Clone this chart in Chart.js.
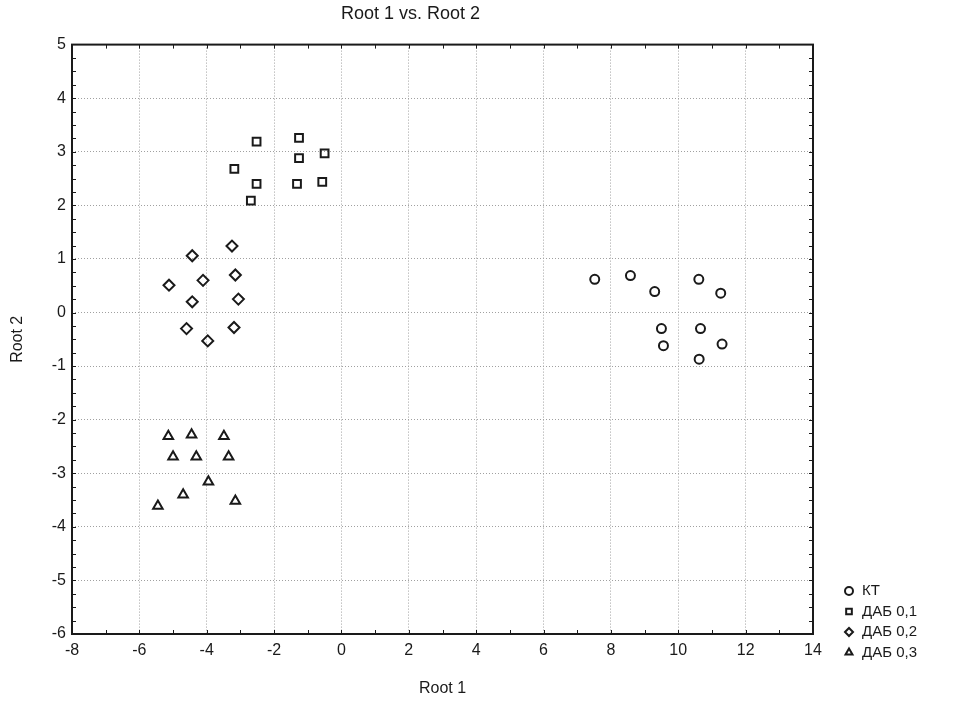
<!DOCTYPE html>
<html>
<head>
<meta charset="utf-8">
<script src="https://cdn.jsdelivr.net/npm/chart.js@4.4.1/dist/chart.umd.min.js"></script>
<style>
  body { margin: 0; background: #fff; }
</style>
</head>
<body>
<canvas id="rootChart" width="954" height="704"></canvas>
<script>
// Данные (Root 1 / Root 2) по группам
const ktRoot1 = [7.52, 8.58, 9.30, 10.61, 11.26, 9.50, 9.56, 10.66, 11.30, 10.62];
const ktRoot2 = [0.62, 0.69, 0.39, 0.62, 0.36, -0.30, -0.62, -0.30, -0.59, -0.87];

const dab01Root1 = [-2.52, -1.26, -0.50, -1.26, -3.18, -2.52, -1.32, -0.57, -2.69];
const dab01Root2 = [3.19, 3.26, 2.97, 2.88, 2.68, 2.40, 2.40, 2.44, 2.09];

const dab02Root1 = [-3.25, -4.43, -3.15, -5.12, -4.11, -4.43, -3.06, -4.60, -3.19, -3.97];
const dab02Root2 = [1.24, 1.06, 0.70, 0.51, 0.60, 0.20, 0.25, -0.30, -0.28, -0.53];

const dab03Root1 = [-5.14, -4.45, -3.49, -5.00, -4.31, -3.35, -3.95, -4.70, -5.45, -3.15];
const dab03Root2 = [-2.31, -2.28, -2.31, -2.69, -2.69, -2.69, -3.16, -3.40, -3.61, -3.52];

const groupNames = ['КТ', 'ДАБ 0,1', 'ДАБ 0,2', 'ДАБ 0,3'];
const xTicks = [-8, -6, -4, -2, 0, 2, 4, 6, 8, 10, 12, 14];
const yTicks = [-6, -5, -4, -3, -2, -1, 0, 1, 2, 3, 4, 5];

const FONT = "'Liberation Sans', Arial, sans-serif";
const INK = '#1a1a1a';

const toPoints = (xs, ys) => xs.map((x, i) => ({ x: x, y: ys[i] }));

const styles = [
  { pointStyle: 'circle', radius: 4.5 },
  { pointStyle: 'rect', radius: 5.5 },
  { pointStyle: 'rectRot', radius: 5.5 },
  { pointStyle: 'triangle', radius: 5.5 }
];

const series = [
  toPoints(ktRoot1, ktRoot2),
  toPoints(dab01Root1, dab01Root2),
  toPoints(dab02Root1, dab02Root2),
  toPoints(dab03Root1, dab03Root2)
];

const datasets = series.map((pts, i) => ({
  label: groupNames[i],
  data: pts,
  pointStyle: styles[i].pointStyle,
  pointRadius: styles[i].radius,
  pointHoverRadius: styles[i].radius,
  pointBorderWidth: 2,
  borderColor: INK,
  backgroundColor: 'rgba(255,255,255,0)'
}));

// Рамка, внутренние засечки и легенда
const framePlugin = {
  id: 'frame',
  afterDraw(chart) {
    const { ctx, chartArea: a, scales } = chart;
    ctx.save();
    ctx.strokeStyle = INK;
    ctx.lineWidth = 2;
    ctx.strokeRect(a.left, a.top, a.right - a.left, a.bottom - a.top);

    ctx.lineWidth = 1;
    ctx.beginPath();
    for (let v = -7; v <= 13; v += 1) {
      const px = Math.round(scales.x.getPixelForValue(v)) + 0.5;
      ctx.moveTo(px, a.top); ctx.lineTo(px, a.top + 4);
      ctx.moveTo(px, a.bottom); ctx.lineTo(px, a.bottom - 4);
    }
    for (let v = -5.75; v < 5; v += 0.25) {
      const py = Math.round(scales.y.getPixelForValue(v)) + 0.5;
      ctx.moveTo(a.left, py); ctx.lineTo(a.left + 4, py);
      ctx.moveTo(a.right, py); ctx.lineTo(a.right - 4, py);
    }
    ctx.stroke();

    // легенда справа внизу
    const lx = 849, ly = 591, step = 20.5;
    ctx.font = '15px ' + FONT;
    ctx.textBaseline = 'middle';
    ctx.textAlign = 'left';
    ctx.lineWidth = 2;
    groupNames.forEach((name, i) => {
      const y = ly + i * step;
      ctx.fillStyle = '#fff';
      ctx.strokeStyle = INK;
      Chart.helpers.drawPoint(ctx, {
        pointStyle: styles[i].pointStyle,
        radius: 4,
        borderWidth: 2
      }, lx, y);
      ctx.fillStyle = INK;
      ctx.fillText(name, lx + 13, y);
    });
    ctx.restore();
  }
};

new Chart(document.getElementById('rootChart'), {
  type: 'scatter',
  data: { datasets: datasets },
  options: {
    responsive: false,
    animation: false,
    layout: { padding: { left: 8, right: 141, top: 0, bottom: 0 } },
    plugins: {
      legend: { display: false },
      tooltip: { enabled: false },
      title: {
        display: true,
        text: 'Root 1 vs. Root 2',
        color: INK,
        font: { family: FONT, size: 18, weight: 'normal' },
        padding: { top: 3, bottom: 20 }
      }
    },
    scales: {
      x: {
        type: 'linear',
        min: -8,
        max: 14,
        afterBuildTicks: s => { s.ticks = xTicks.map(v => ({ value: v })); },
        afterFit: s => { s.height = 70; },
        ticks: { color: INK, padding: 7, font: { family: FONT, size: 16 } },
        grid: { color: '#a0a0a0', lineWidth: 1, drawTicks: false, tickLength: 0 },
        border: { display: false, dash: [1, 2] },
        title: {
          display: true,
          text: 'Root 1',
          color: INK,
          font: { family: FONT, size: 16 },
          padding: { top: 0, bottom: 6 }
        }
      },
      y: {
        type: 'linear',
        min: -6,
        max: 5,
        afterBuildTicks: s => { s.ticks = yTicks.map(v => ({ value: v })); },
        afterFit: s => { s.width = 64; },
        ticks: { color: INK, padding: 6, font: { family: FONT, size: 16 } },
        grid: { color: '#a0a0a0', lineWidth: 1, drawTicks: false, tickLength: 0 },
        border: { display: false, dash: [1, 2] },
        title: {
          display: true,
          text: 'Root 2',
          color: INK,
          font: { family: FONT, size: 16 },
          padding: { top: 0, bottom: 0 }
        }
      }
    }
  },
  plugins: [framePlugin]
});
</script>
</body>
</html>
